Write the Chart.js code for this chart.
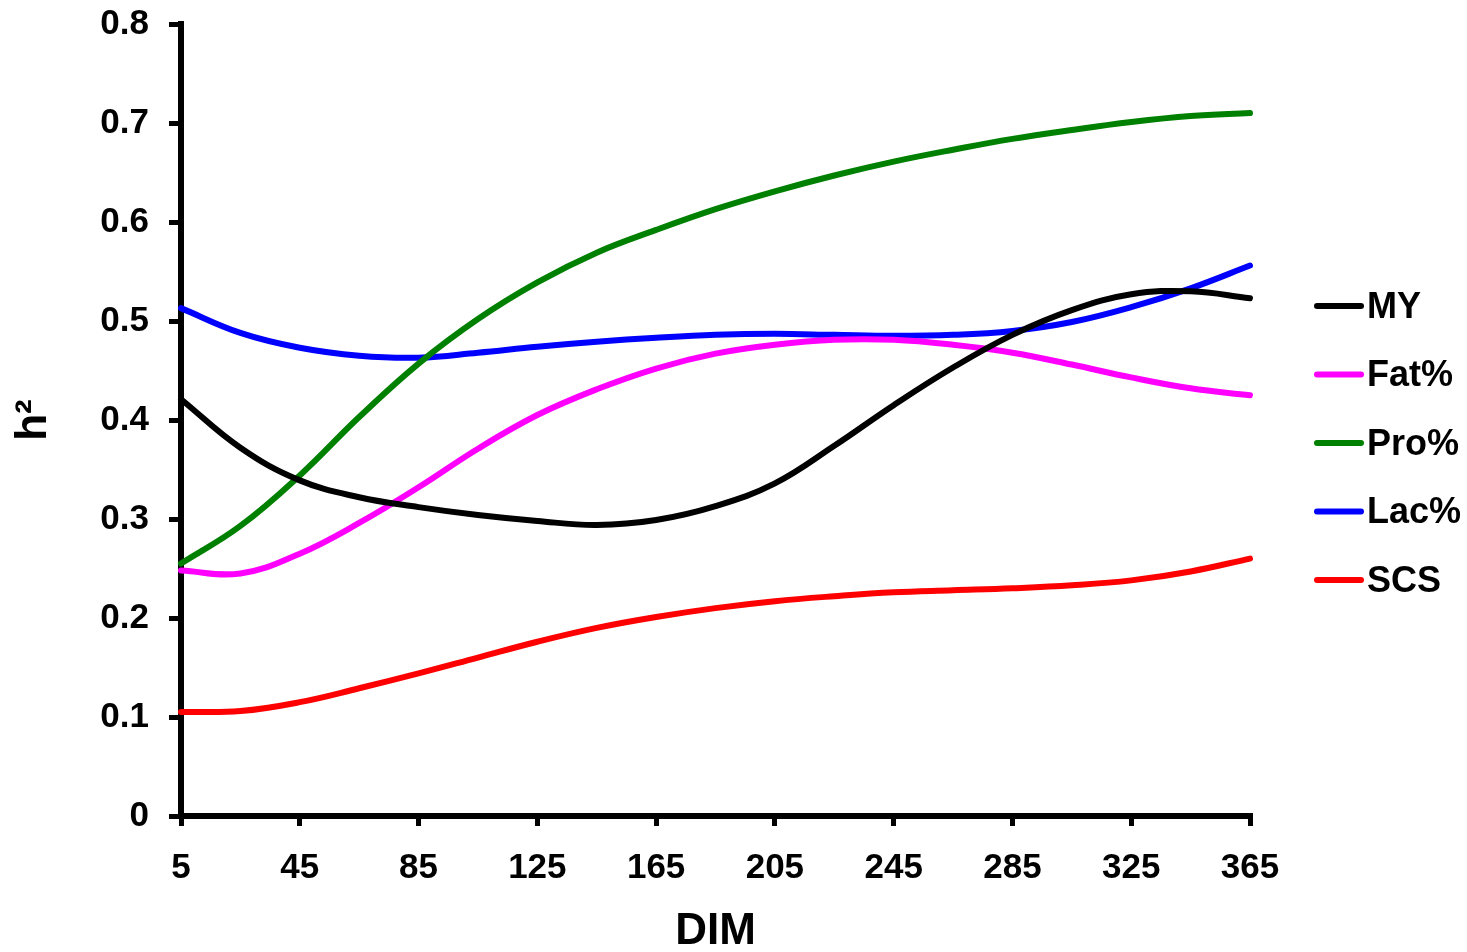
<!DOCTYPE html>
<html>
<head>
<meta charset="utf-8">
<script src="https://cdn.jsdelivr.net/npm/chart.js@4/dist/chart.umd.min.js"></script>
<style>
  html, body { margin: 0; padding: 0; background: #fff; }
  #wrap { width: 1467px; height: 952px; position: relative; }
</style>
</head>
<body>
<div id="wrap"><canvas id="h2Chart"></canvas></div>
<script>
// days in milk, read every 20 days
const dim = [5, 25, 45, 65, 85, 105, 125, 145, 165, 185, 205, 225, 245, 265, 285, 305, 325, 345, 365]

const my = [0.421, 0.372, 0.339, 0.322, 0.312, 0.304, 0.298, 0.294, 0.299, 0.313, 0.336, 0.374, 0.415, 0.453, 0.486, 0.511, 0.527, 0.530, 0.523]
const fat = [0.248, 0.245, 0.265, 0.296, 0.332, 0.371, 0.405, 0.431, 0.452, 0.467, 0.476, 0.481, 0.481, 0.476, 0.468, 0.456, 0.443, 0.432, 0.425]
const pro = [0.255, 0.293, 0.344, 0.403, 0.457, 0.502, 0.539, 0.569, 0.592, 0.613, 0.631, 0.647, 0.661, 0.673, 0.684, 0.693, 0.701, 0.707, 0.710]
const lac = [0.513, 0.488, 0.473, 0.465, 0.463, 0.468, 0.474, 0.479, 0.483, 0.486, 0.487, 0.486, 0.485, 0.486, 0.490, 0.499, 0.514, 0.533, 0.556]
const scs = [0.105, 0.106, 0.115, 0.129, 0.144, 0.160, 0.176, 0.190, 0.201, 0.210, 0.217, 0.222, 0.226, 0.228, 0.230, 0.233, 0.238, 0.247, 0.260]

const xTicks = [5, 45, 85, 125, 165, 205, 245, 285, 325, 365]
const yTicks = [0, 0.1, 0.2, 0.3, 0.4, 0.5, 0.6, 0.7, 0.8]

const FONT = '"Liberation Sans", Arial, sans-serif'

function series(label, values, color) {
  return {
    label: label,
    data: values.map((v, i) => ({ x: dim[i], y: v })),
    borderColor: color,
    backgroundColor: color,
    borderWidth: 6,
    borderCapStyle: 'round',
    borderJoinStyle: 'round',
    pointRadius: 0,
    tension: 0.4,
    clip: false
  }
}

// legend on the right: short line + bold label
const sideLegend = {
  id: 'sideLegend',
  afterDraw(chart) {
    const ctx = chart.ctx
    ctx.save()
    ctx.font = 'bold 36px ' + FONT
    ctx.textBaseline = 'middle'
    ctx.textAlign = 'left'
    chart.data.datasets.forEach((ds, i) => {
      const y = 306 + i * 68.5
      ctx.strokeStyle = ds.borderColor
      ctx.lineWidth = 6
      ctx.lineCap = 'round'
      ctx.beginPath()
      ctx.moveTo(1317, y)
      ctx.lineTo(1361, y)
      ctx.stroke()
      ctx.fillStyle = '#000'
      ctx.fillText(ds.label, 1367, y + 2)
    })
    ctx.restore()
  }
}

new Chart(document.getElementById('h2Chart'), {
  type: 'line',
  data: {
    datasets: [
      series('MY', my, '#000000'),
      series('Fat%', fat, '#ff00ff'),
      series('Pro%', pro, '#008000'),
      series('Lac%', lac, '#0000ff'),
      series('SCS', scs, '#ff0000')
    ]
  },
  plugins: [sideLegend],
  options: {
    responsive: true,
    maintainAspectRatio: false,
    animation: false,
    layout: { padding: { top: 24, right: 217, left: 0, bottom: 0 } },
    plugins: {
      legend: { display: false },
      tooltip: { enabled: false }
    },
    scales: {
      x: {
        type: 'linear',
        min: 5,
        max: 365,
        afterBuildTicks: scale => { scale.ticks = xTicks.map(v => ({ value: v })) },
        afterFit: scale => {
          scale.height = 136
          scale.paddingLeft = 0
          scale.paddingRight = 0
        },
        border: { display: true, color: '#000', width: 6 },
        grid: { drawOnChartArea: false, drawTicks: true, tickLength: 10, color: '#000', lineWidth: 5 },
        ticks: {
          color: '#000',
          padding: 21,
          maxRotation: 0,
          font: { family: FONT, size: 35, weight: 'bold' }
        },
        title: {
          display: true,
          text: 'DIM',
          color: '#000',
          padding: 0,
          font: { family: FONT, size: 44, weight: 'bold', lineHeight: 0.9 }
        }
      },
      y: {
        min: 0,
        max: 0.8,
        afterBuildTicks: scale => { scale.ticks = yTicks.map(v => ({ value: v })) },
        afterFit: scale => {
          scale.width = 181
          scale.paddingTop = 0
          scale.paddingBottom = 0
        },
        border: { display: true, color: '#000', width: 6 },
        grid: { drawOnChartArea: false, drawTicks: true, tickLength: 12, color: '#000', lineWidth: 5 },
        ticks: {
          color: '#000',
          padding: 20,
          callback: v => (v === 0 ? '0' : v.toFixed(1)),
          font: { family: FONT, size: 35, weight: 'bold' }
        },
        title: {
          display: true,
          text: 'h²',
          color: '#000',
          padding: { top: 14, bottom: 0 },
          font: { family: FONT, size: 44, weight: 'bold', lineHeight: 0.9 }
        }
      }
    }
  }
})
</script>
</body>
</html>
